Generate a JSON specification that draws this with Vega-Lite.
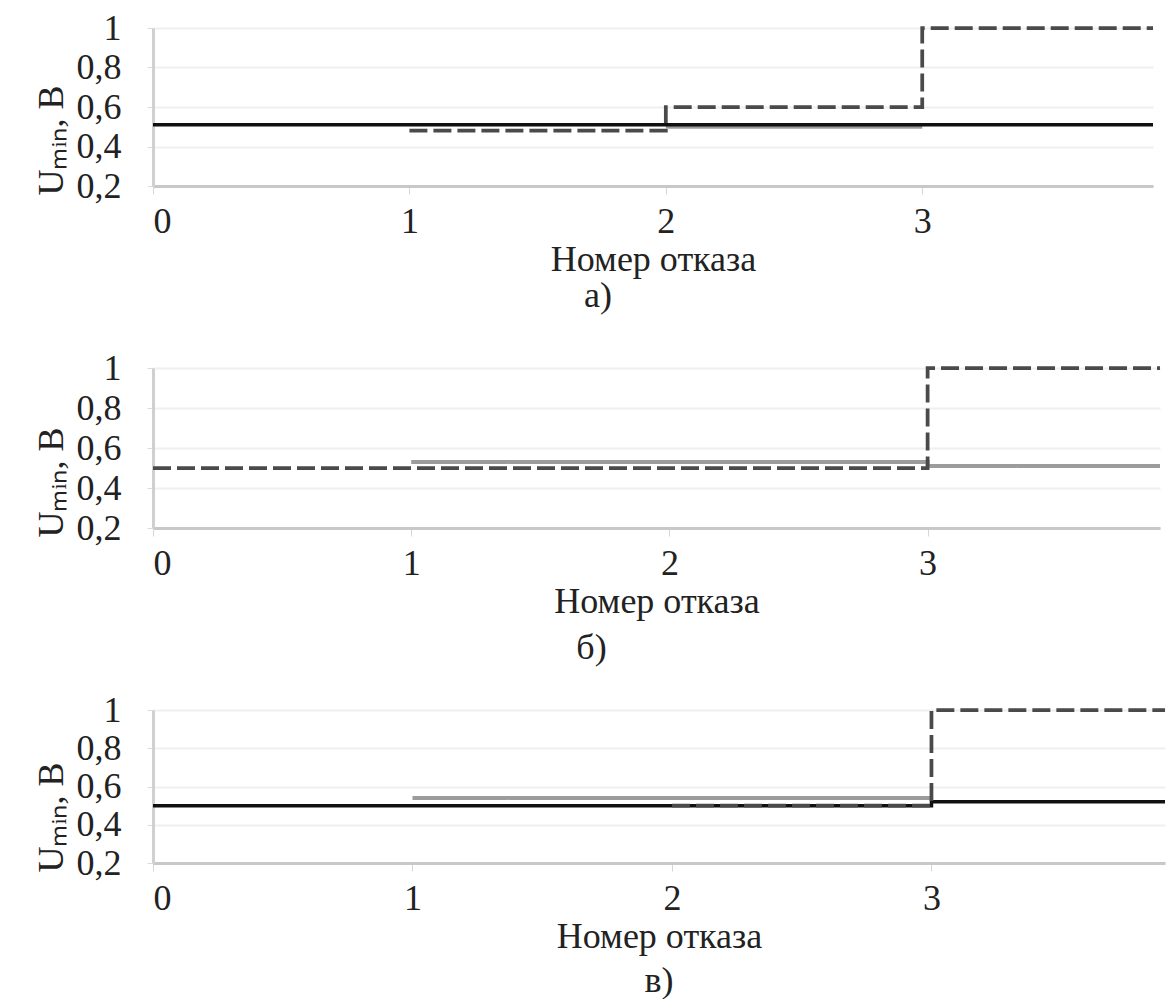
{
  "$schema": "https://vega.github.io/schema/vega-lite/v6.json",
  "background": "white",
  "padding": {"left": 33, "top": 10, "right": 2, "bottom": 0},
  "spacing": 182,
  "bounds": "flush",
  "config": {
    "font": "Liberation Serif",
    "view": {"stroke": null},
    "axis": {
      "labelFont": "Liberation Serif",
      "titleFont": "Liberation Serif",
      "labelFontSize": 36,
      "titleFontSize": 36,
      "labelColor": "#222222",
      "titleColor": "#222222",
      "titleFontWeight": "normal"
    },
    "axisX": {
      "domain": true,
      "domainColor": "#c8c8c8",
      "domainWidth": 3,
      "ticks": true,
      "tickColor": "#d6d6d6",
      "tickSize": 8,
      "grid": false,
      "labelPadding": 10,
      "titlePadding": 3
    },
    "axisY": {
      "domain": true,
      "domainColor": "#d0d0d0",
      "domainWidth": 3,
      "ticks": true,
      "tickSize": 6,
      "tickColor": "#dddddd",
      "grid": true,
      "gridColor": "#efefef",
      "gridWidth": 2,
      "labelPadding": 26,
      "titlePadding": 6
    },
    "title": {"font": "Liberation Serif", "fontSize": 36, "fontWeight": "normal", "color": "#222222", "orient": "bottom"}
  },
  "vconcat": [
    {
      "width": 1000,
      "height": 158,
      "title": {"text": "а)", "orient": "bottom", "offset": 2, "dx": -55},
      "data": {"values": [
        {"s": "gray", "x": 2, "y": 0.5},
        {"s": "gray", "x": 3, "y": 0.5},
        {"s": "dash", "x": 1, "y": 0.48},
        {"s": "dash", "x": 2, "y": 0.6},
        {"s": "dash", "x": 3, "y": 1.0},
        {"s": "dash", "x": 3.9, "y": 1.0},
        {"s": "black", "x": 0, "y": 0.51},
        {"s": "black", "x": 3.9, "y": 0.51}
      ]},
      "mark": {"type": "line", "interpolate": "step-after"},
      "encoding": {
        "x": {"field": "x", "type": "quantitative", "scale": {"domain": [0, 3.9], "nice": false, "zero": false},
              "axis": {"values": [0, 1, 2, 3], "format": "d", "title": "Номер отказа"}},
        "y": {"field": "y", "type": "quantitative", "scale": {"domain": [0.2, 1], "nice": false, "zero": false},
              "axis": {"values": [0.2, 0.4, 0.6, 0.8, 1], "format": "~g", "labelExpr": "replace(datum.label, '.', ',')", "title": "Uₘᵢₙ, В", "titleAlign": "left", "titleY": 167}},
        "color": {"field": "s", "type": "nominal", "scale": {"domain": ["gray", "dash", "black"], "range": ["#9c9c9c", "#4a4a4a", "#111111"]}, "legend": null},
        "strokeDash": {"field": "s", "type": "nominal", "scale": {"domain": ["gray", "dash", "black"], "range": [[1, 0], [18, 6], [1, 0]]}, "legend": null},
        "strokeWidth": {"field": "s", "type": "ordinal", "scale": {"domain": ["gray", "dash", "black"], "range": [4, 3.5, 2.5]}, "legend": null}
      }
    },
    {
      "width": 1007,
      "height": 160,
      "title": {"text": "б)", "orient": "bottom", "offset": 12, "dx": -65},
      "data": {"values": [
        {"s": "gray", "x": 1, "y": 0.53},
        {"s": "gray", "x": 3, "y": 0.51},
        {"s": "gray", "x": 3.9, "y": 0.51},
        {"s": "dash", "x": 0, "y": 0.5},
        {"s": "dash", "x": 3, "y": 1.0},
        {"s": "dash", "x": 3.9, "y": 1.0}
      ]},
      "mark": {"type": "line", "interpolate": "step-after"},
      "encoding": {
        "x": {"field": "x", "type": "quantitative", "scale": {"domain": [0, 3.9], "nice": false, "zero": false},
              "axis": {"values": [0, 1, 2, 3], "format": "d", "title": "Номер отказа"}},
        "y": {"field": "y", "type": "quantitative", "scale": {"domain": [0.2, 1], "nice": false, "zero": false},
              "axis": {"values": [0.2, 0.4, 0.6, 0.8, 1], "format": "~g", "labelExpr": "replace(datum.label, '.', ',')", "title": "Uₘᵢₙ, В", "titleAlign": "left", "titleY": 169}},
        "color": {"field": "s", "type": "nominal", "scale": {"domain": ["gray", "dash", "black"], "range": ["#9c9c9c", "#4a4a4a", "#111111"]}, "legend": null},
        "strokeDash": {"field": "s", "type": "nominal", "scale": {"domain": ["gray", "dash", "black"], "range": [[1, 0], [18, 6], [1, 0]]}, "legend": null},
        "strokeWidth": {"field": "s", "type": "ordinal", "scale": {"domain": ["gray", "dash", "black"], "range": [4, 3.5, 2.5]}, "legend": null}
      }
    },
    {
      "width": 1012,
      "height": 153,
      "title": {"text": "в)", "orient": "bottom", "offset": 10, "dx": 0},
      "data": {"values": [
        {"s": "gray", "x": 1, "y": 0.54},
        {"s": "gray", "x": 3, "y": 0.54},
        {"s": "black", "x": 0, "y": 0.5},
        {"s": "black", "x": 3, "y": 0.52},
        {"s": "black", "x": 3.9, "y": 0.52},
        {"s": "dash", "x": 2, "y": 0.5},
        {"s": "dash", "x": 3, "y": 1.0},
        {"s": "dash", "x": 3.9, "y": 1.0}
      ]},
      "mark": {"type": "line", "interpolate": "step-after"},
      "encoding": {
        "x": {"field": "x", "type": "quantitative", "scale": {"domain": [0, 3.9], "nice": false, "zero": false},
              "axis": {"values": [0, 1, 2, 3], "format": "d", "title": "Номер отказа"}},
        "y": {"field": "y", "type": "quantitative", "scale": {"domain": [0.2, 1], "nice": false, "zero": false},
              "axis": {"values": [0.2, 0.4, 0.6, 0.8, 1], "format": "~g", "labelExpr": "replace(datum.label, '.', ',')", "title": "Uₘᵢₙ, В", "titleAlign": "left", "titleY": 162}},
        "color": {"field": "s", "type": "nominal", "scale": {"domain": ["gray", "dash", "black"], "range": ["#9c9c9c", "#4a4a4a", "#111111"]}, "legend": null},
        "strokeDash": {"field": "s", "type": "nominal", "scale": {"domain": ["gray", "dash", "black"], "range": [[1, 0], [18, 6], [1, 0]]}, "legend": null},
        "strokeWidth": {"field": "s", "type": "ordinal", "scale": {"domain": ["gray", "dash", "black"], "range": [4, 3.5, 2.5]}, "legend": null}
      }
    }
  ]
}
